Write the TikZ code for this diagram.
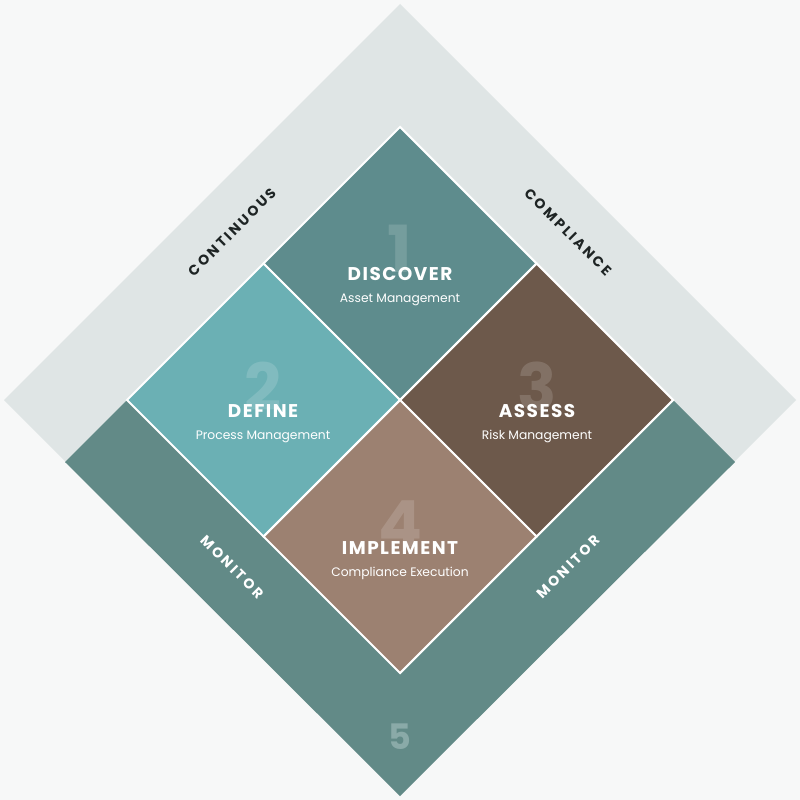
\documentclass[tikz,border=0pt]{standalone}
\usepackage{fontspec}
\usepackage{tikz}
\usetikzlibrary{calc}
\setmainfont{Poppins}
\newfontfamily\headfont[LetterSpace=8]{Poppins}
\newfontfamily\bandfont[LetterSpace=18]{Poppins}
\definecolor{bgcol}{HTML}{F7F8F8}
\definecolor{lightband}{HTML}{DFE5E5}
\definecolor{darkband}{HTML}{628A87}
\definecolor{discovercol}{HTML}{5E8C8D}
\definecolor{definecol}{HTML}{6BB0B4}
\definecolor{assesscol}{HTML}{6D594B}
\definecolor{implementcol}{HTML}{9C8171}
\definecolor{bandtext}{HTML}{1E2424}
\definecolor{fivecol}{HTML}{8AAAA8}

\tikzset{
  quad/.style={draw=white, line width=1.2pt, line join=miter},
  title/.style={text=white, font=\headfont\bfseries\fontsize{10.5}{12}\selectfont, anchor=base},
  sub/.style={text=white, font=\fontsize{7}{8}\selectfont, anchor=base},
  num/.style={text=white, text opacity=0.15, font=\bfseries\fontsize{37}{40}\selectfont, anchor=base},
  bandlabel/.style={font=\bandfont\bfseries\fontsize{8}{9}\selectfont}
}

\begin{document}
\begin{tikzpicture}[x=0.02cm, y=-0.02cm]

\useasboundingbox (0,0) rectangle (800,800);
\fill[bgcol] (0,0) rectangle (800,800);

% outer diamond and monitor band
\fill[lightband] (4,400) -- (400,4) -- (796,400) -- (400,796) -- cycle;
\fill[darkband] (400,127) -- (735,462) -- (400,796) -- (65,462) -- cycle;

% corners of the inner diamond
\coordinate (c) at (400,400);
\coordinate (t) at (400,127);
\coordinate (l) at (127,400);
\coordinate (r) at (673,400);
\coordinate (b) at (400,673);

% four quadrants
\filldraw[quad, fill=discovercol] (t) -- ($(t)!0.5!(r)$) -- (c) -- ($(t)!0.5!(l)$) -- cycle;
\filldraw[quad, fill=definecol] (l) -- ($(l)!0.5!(t)$) -- (c) -- ($(l)!0.5!(b)$) -- cycle;
\filldraw[quad, fill=assesscol] (r) -- ($(r)!0.5!(t)$) -- (c) -- ($(r)!0.5!(b)$) -- cycle;
\filldraw[quad, fill=implementcol] (b) -- ($(b)!0.5!(l)$) -- (c) -- ($(b)!0.5!(r)$) -- cycle;

% numbers
\node[num] (n1) at (400,273) {1};
\node[num] (n2) at (263,410) {2};
\node[num] (n3) at (537,410) {3};
\node[num] (n4) at (400,547) {4};
\node[text=fivecol, font=\bfseries\fontsize{20}{22}\selectfont] (n5) at (400,737) {5};

% titles
\node[title] (discover) at (400,280) {DISCOVER};
\node[sub] (discoversub) at (400,302) {Asset Management};
\node[title] (define) at (263,417) {DEFINE};
\node[sub] (definesub) at (263,439) {Process Management};
\node[title] (assess) at (537,417) {ASSESS};
\node[sub] (assesssub) at (537,439) {Risk Management};
\node[title] (implement) at (400,554) {IMPLEMENT};
\node[sub] (implementsub) at (400,576) {Compliance Execution};

% band labels
\node[bandlabel, text=bandtext, rotate=45] (continuous) at (232,232) {CONTINUOUS};
\node[bandlabel, text=bandtext, rotate=-45] (compliance) at (568,232) {COMPLIANCE};
\node[bandlabel, text=white, rotate=-45] (monitorl) at (232,567) {MONITOR};
\node[bandlabel, text=white, rotate=45] (monitorr) at (568,567) {MONITOR};

\end{tikzpicture}
\end{document}
